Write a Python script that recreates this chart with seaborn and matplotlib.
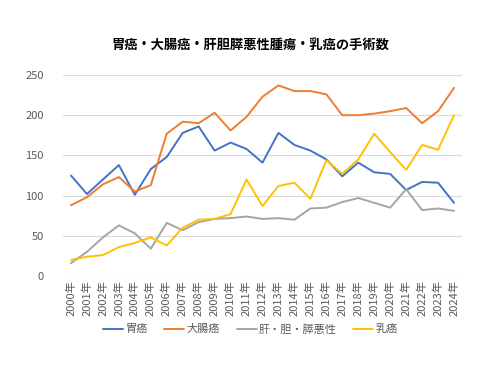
import matplotlib
matplotlib.use("Agg")
import matplotlib.pyplot as plt
import seaborn as sns
import pandas as pd

years = [f"{y}年" for y in range(2000, 2025)]
stomach = [125, 102, 120, 138, 101, 133, 148, 178, 186, 156, 166, 158, 141,
           178, 163, 156, 145, 124, 141, 129, 127, 107, 117, 116, 91]
colon = [88, 98, 114, 123, 105, 113, 177, 192, 190, 203, 181, 198, 223,
         237, 230, 230, 226, 200, 200, 202, 205, 209, 190, 205, 234]
hbp = [16, 30, 48, 63, 53, 34, 66, 57, 67, 71, 72, 74, 71,
       72, 70, 84, 85, 92, 97, 91, 85, 108, 82, 84, 81]
breast = [20, 24, 26, 36, 41, 48, 38, 60, 70, 71, 77, 120, 87,
          112, 116, 96, 144, 127, 145, 177, 154, 132, 163, 157, 200]
series_names = ["胃癌", "大腸癌", "肝・胆・膵悪性", "乳癌"]
colors = ["#4472C4", "#ED7D31", "#A5A5A5", "#FFC000"]

rows = []
for name, vals in zip(series_names, [stomach, colon, hbp, breast]):
    for yr, v in zip(years, vals):
        rows.append({"year": yr, "count": v, "kind": name})
df = pd.DataFrame(rows)

sns.set_style("white")
plt.rcParams["font.family"] = ["Noto Sans CJK JP", "DejaVu Sans"]

fig = plt.figure(figsize=(5, 3.75), dpi=100)
ax = fig.add_axes([0.126, 0.264, 0.798, 0.536])
sns.lineplot(data=df, x="year", y="count", hue="kind", palette=colors,
             hue_order=series_names, sort=False, linewidth=1.4, ax=ax)

ax.set_xlim(-0.5, len(years) - 0.5)
ax.set_ylim(0, 250)
ax.set_yticks([0, 50, 100, 150, 200, 250])
ax.yaxis.grid(True, color="#D9D9D9", linewidth=0.8)
ax.set_axisbelow(True)
for s in ax.spines.values():
    s.set_visible(False)
ax.tick_params(axis="x", rotation=90, labelsize=8, colors="#595959", length=0, pad=3)
ax.tick_params(axis="y", labelsize=8, colors="#595959", length=0, pad=14)
ax.set_xlabel("")
ax.set_ylabel("")

ax.legend(loc="upper center", bbox_to_anchor=(0.47, -0.19), ncol=4, frameon=False,
          fontsize=8, handlelength=1.8, handletextpad=0.2, columnspacing=1.5,
          labelcolor="#595959")
fig.suptitle("胃癌・大腸癌・肝胆膵悪性腫瘍・乳癌の手術数", y=0.9, fontsize=9.5,
             color="#000000", fontweight="bold")

fig.savefig("out.png", dpi=100, facecolor="white")
